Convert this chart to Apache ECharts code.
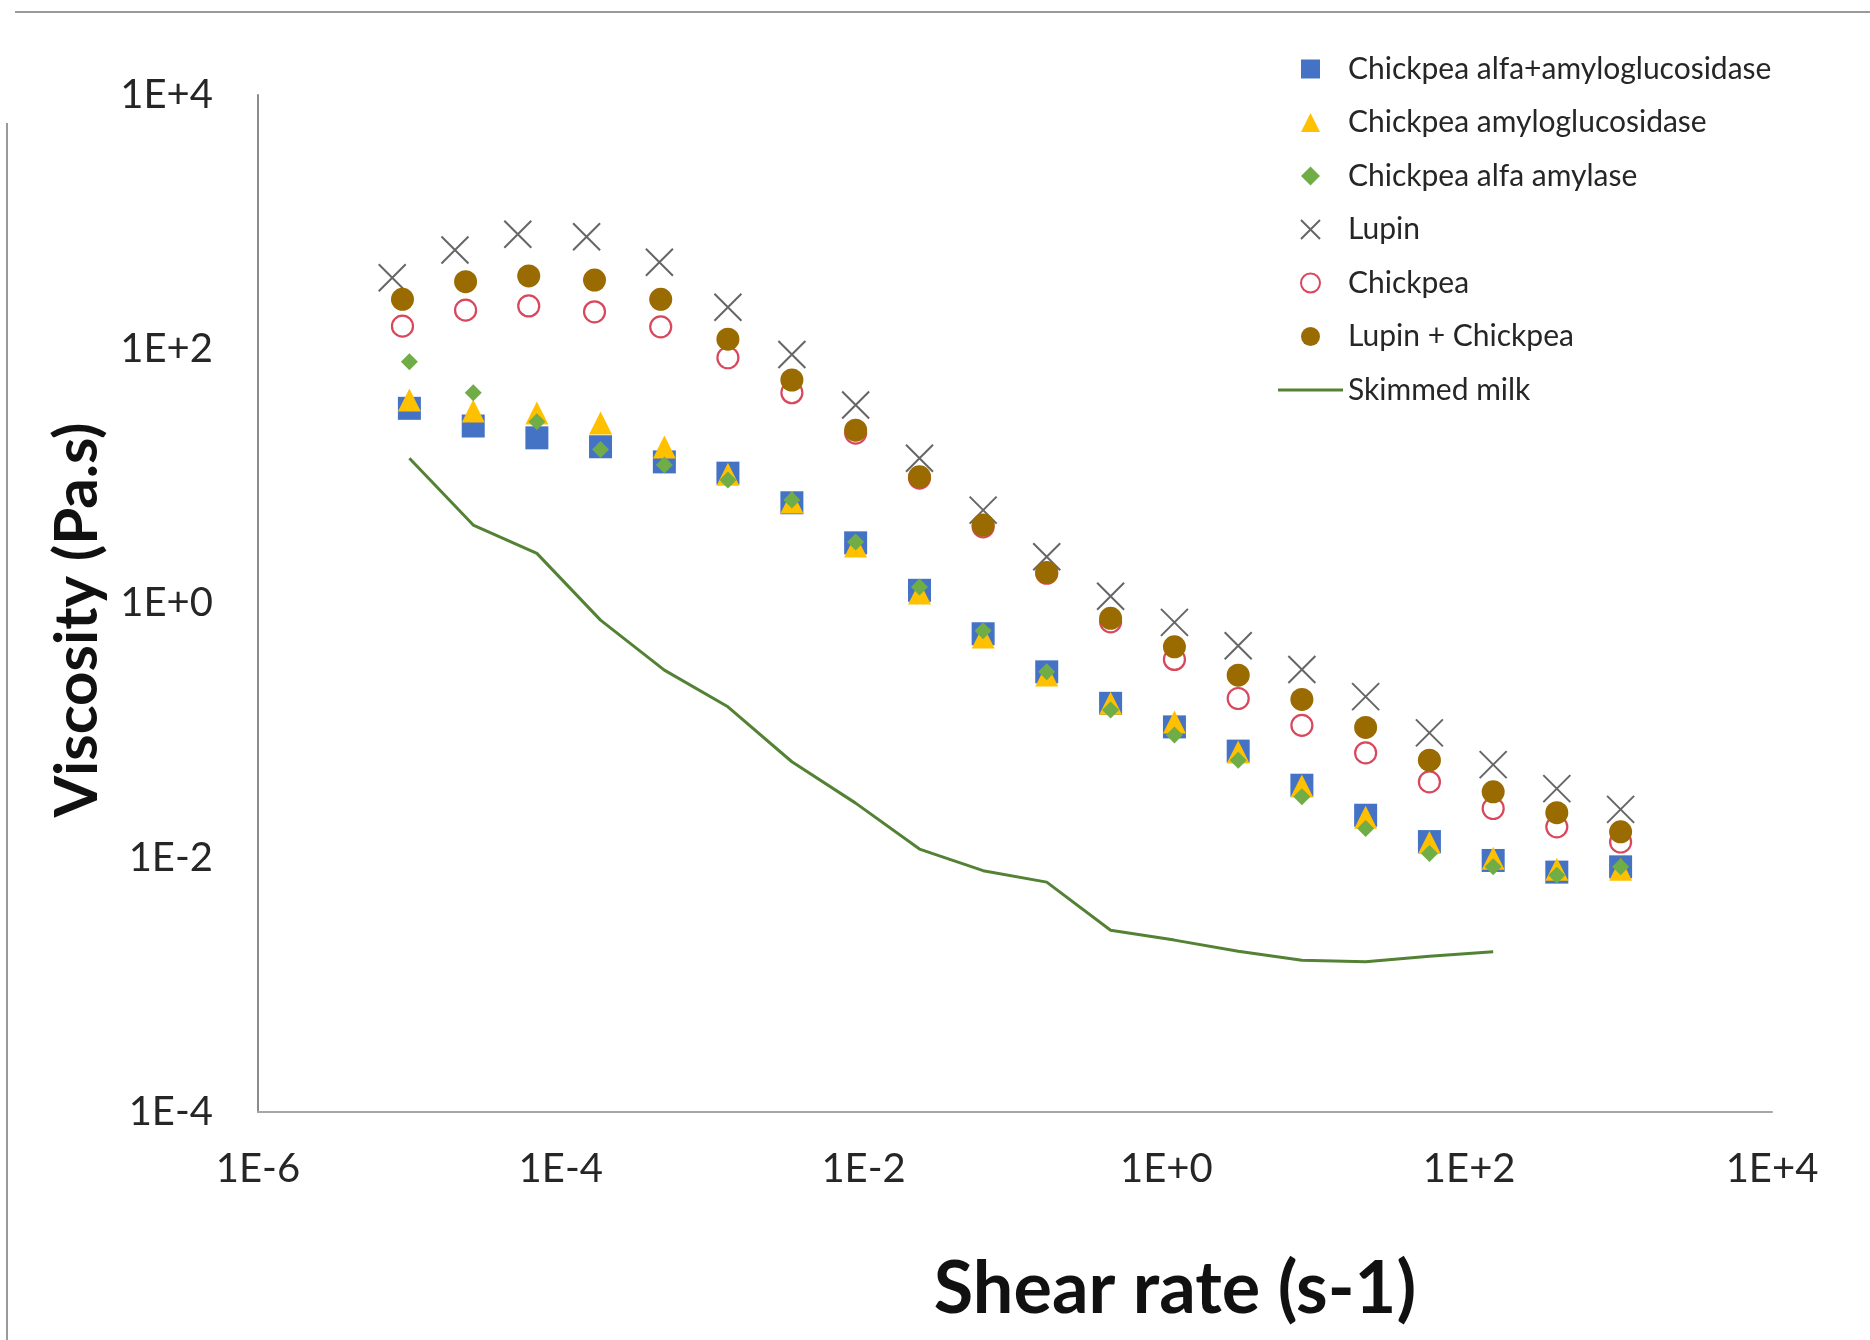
<!DOCTYPE html>
<html>
<head>
<meta charset="utf-8">
<title>Viscosity vs shear rate</title>
<script src="https://cdn.jsdelivr.net/npm/echarts@6/dist/echarts.min.js"></script>
<style>
  html, body { margin: 0; padding: 0; background: #ffffff; }
  #chart { width: 1870px; height: 1340px; }
</style>
</head>
<body>
<div id="chart"></div>
<script>
/* ============================================================
   Viscosity (Pa.s) vs Shear rate (s-1), log-log scatter
   6 scatter series + skimmed milk line
   ============================================================ */

// ---- shear rate (x) ----
var enzymeShear   = [1.0e-5, 2.64e-5, 6.95e-5, 1.83e-4, 4.83e-4, 1.27e-3, 3.36e-3, 8.86e-3, 0.0234, 0.0616,
                     0.162, 0.428, 1.13, 2.98, 7.85, 20.7, 54.6, 144, 379, 1000];
var lupinShear    = [7.7e-6, 2.0e-5, 5.2e-5, 1.48e-4, 4.48e-4, 1.27e-3, 3.36e-3, 8.86e-3, 0.0234, 0.0616,
                     0.162, 0.428, 1.13, 2.98, 7.85, 20.7, 54.6, 144, 379, 1000];
var chickpeaShear = [9.0e-6, 2.35e-5, 6.14e-5, 1.67e-4, 4.57e-4, 1.27e-3, 3.36e-3, 8.86e-3, 0.0234, 0.0616,
                     0.162, 0.428, 1.13, 2.98, 7.85, 20.7, 54.6, 144, 379, 1000];
var milkShear     = [1.0e-5, 2.64e-5, 6.95e-5, 1.83e-4, 4.83e-4, 1.27e-3, 3.36e-3, 8.86e-3, 0.0234, 0.0616,
                     0.162, 0.428, 1.13, 2.98, 7.85, 20.7, 54.6, 144];

// ---- viscosity (y) ----
var alfaAmyloVisc  = [34.3, 24.9, 20.1, 17.1, 13.0, 10.6, 6.2, 3.0, 1.27, 0.578,
                      0.290, 0.164, 0.107, 0.069, 0.0372, 0.0216, 0.0134, 0.00952, 0.00771, 0.00848];
var amyloVisc      = [39.8, 32.7, 31.5, 26.3, 17.0, 10.4, 6.28, 2.83, 1.21, 0.544,
                      0.274, 0.164, 0.117, 0.0678, 0.0366, 0.0208, 0.0132, 0.00993, 0.00813, 0.00813];
var alfaVisc       = [79.8, 45.5, 26.9, 16.3, 12.3, 9.35, 6.51, 3.05, 1.35, 0.61,
                      0.290, 0.145, 0.0922, 0.0586, 0.0302, 0.0170, 0.0108, 0.00848, 0.00729, 0.00848];
var lupinVisc      = [365, 603, 802, 768, 483, 214, 91, 36.4, 13.9, 5.43,
                      2.33, 1.14, 0.71, 0.465, 0.303, 0.185, 0.096, 0.054, 0.035, 0.024];
var chickpeaVisc   = [152, 203, 219, 197, 150, 85.7, 45.5, 21.9, 9.70, 4.01,
                      1.73, 0.718, 0.363, 0.179, 0.110, 0.0668, 0.0395, 0.0244, 0.0175, 0.0133];
var blendVisc      = [247, 340, 377, 350, 247, 120, 57.3, 23.1, 9.93, 4.14,
                      1.75, 0.764, 0.456, 0.273, 0.176, 0.106, 0.0586, 0.0330, 0.0226, 0.0160];
var milkVisc       = [13.9, 4.14, 2.48, 0.740, 0.299, 0.154, 0.0569, 0.0269, 0.0117, 0.00791,
                      0.00643, 0.00269, 0.00225, 0.00184, 0.00156, 0.00152, 0.00168, 0.00182];

// ---- names / labels ----
var seriesNames = ["Chickpea alfa+amyloglucosidase", "Chickpea amyloglucosidase", "Chickpea alfa amylase",
                   "Lupin", "Chickpea", "Lupin + Chickpea", "Skimmed milk"];
var xTitle = "Shear rate (s-1)";
var yTitle = "Viscosity (Pa.s)";

var FONT = "Lato, 'Open Sans', sans-serif";

// path icons keep their aspect inside the wide legend box
var ICON_SQUARE   = "path://M0,0H10V10H0Z";
var ICON_TRIANGLE = "path://M5,0L10,10L0,10Z";
var ICON_DIAMOND  = "path://M5,0L10,5L5,10L0,5Z";
var ICON_CROSS    = "path://M0,0L10,10M0,10L10,0";
var ICON_CIRCLE   = "path://M10,5A5,5,0,1,1,0,5A5,5,0,1,1,10,5Z";
var ICON_LINE     = "path://M0,0H65V3H0Z";
var legendIcons   = [ICON_SQUARE, ICON_TRIANGLE, ICON_DIAMOND, ICON_CROSS, ICON_CIRCLE, ICON_CIRCLE, ICON_LINE];

function pairs(xs, ys) {
  return ys.map(function(v, i) { return [xs[i], v]; });
}

// 1E+4 style labels
function sciLabel(v) {
  var e = Math.round(Math.log10(v));
  return "1E" + (e >= 0 ? "+" : "") + e;
}

var chart = echarts.init(document.getElementById("chart"), null, { renderer: "canvas" });

chart.setOption({
  backgroundColor: "#ffffff",
  animation: false,

  // ---- legend ----
  legend: {
    orient: "vertical",
    left: 1273,
    top: 49,
    itemWidth: 65,
    itemHeight: 19,
    itemGap: 23.5,
    textStyle: { fontFamily: FONT, fontSize: 30, color: "#262626" },
    data: seriesNames.map(function(n, i) { return { name: n, icon: legendIcons[i] }; })
  },

  // ---- grid ----
  grid: { left: 258, right: 98, top: 95, bottom: 228 },

  xAxis: {
    type: "log",
    logBase: 10,
    min: 1e-6,
    max: 1e4,
    interval: 2,
    axisLine: { show: true, onZero: false, lineStyle: { color: "#a6a6a6", width: 2 } },
    axisTick: { show: false },
    minorTick: { show: false },
    splitLine: { show: false },
    axisLabel: {
      margin: 37,
      fontFamily: FONT,
      fontSize: 40,
      color: "#262626",
      formatter: sciLabel
    }
  },

  yAxis: {
    type: "log",
    logBase: 10,
    min: 1e-4,
    max: 1e4,
    interval: 2,
    axisLine: { show: true, onZero: false, lineStyle: { color: "#8c8c8c", width: 2 } },
    axisTick: { show: false },
    minorTick: { show: false },
    splitLine: { show: false },
    axisLabel: {
      margin: 45,
      fontFamily: FONT,
      fontSize: 40,
      color: "#262626",
      formatter: sciLabel
    }
  },

  // ---- titles + outer frame ----
  graphic: [
    {
      type: "text",
      x: 1175, y: 1290,
      style: { text: xTitle, font: "bold 72px " + FONT, fill: "#111111", align: "center", verticalAlign: "middle" }
    },
    {
      type: "text",
      x: 78, y: 620,
      rotation: Math.PI / 2,
      style: { text: yTitle, font: "bold 60px " + FONT, fill: "#111111", align: "center", verticalAlign: "middle" }
    },
    { type: "line", shape: { x1: 15, y1: 12, x2: 1870, y2: 12 }, style: { stroke: "#9a9a9a", lineWidth: 2 } },
    { type: "line", shape: { x1: 7, y1: 123, x2: 7, y2: 1340 }, style: { stroke: "#9a9a9a", lineWidth: 2 } }
  ],

  series: [
    {
      name: seriesNames[0], type: "scatter", symbol: "rect", symbolSize: 23,
      itemStyle: { color: "#4472c4", opacity: 1 },
      data: pairs(enzymeShear, alfaAmyloVisc)
    },
    {
      name: seriesNames[1], type: "scatter", symbol: "triangle", symbolSize: 23,
      itemStyle: { color: "#ffc000", opacity: 1 },
      data: pairs(enzymeShear, amyloVisc)
    },
    {
      name: seriesNames[2], type: "scatter", symbol: "diamond", symbolSize: 17,
      itemStyle: { color: "#70ad47", opacity: 1 },
      data: pairs(enzymeShear, alfaVisc)
    },
    {
      name: seriesNames[3], type: "scatter", symbol: ICON_CROSS, symbolSize: 27,
      itemStyle: { color: "rgba(0,0,0,0)", borderColor: "#666666", borderWidth: 2, opacity: 1 },
      data: pairs(lupinShear, lupinVisc)
    },
    {
      name: seriesNames[4], type: "scatter", symbol: "circle", symbolSize: 21,
      itemStyle: { color: "#ffffff", borderColor: "#d9475c", borderWidth: 2.2, opacity: 1 },
      data: pairs(chickpeaShear, chickpeaVisc)
    },
    {
      name: seriesNames[5], type: "scatter", symbol: "circle", symbolSize: 23,
      itemStyle: { color: "#9a6b00", opacity: 1 },
      data: pairs(chickpeaShear, blendVisc)
    },
    {
      name: seriesNames[6], type: "line", symbol: "none", showSymbol: false,
      lineStyle: { color: "#548235", width: 3 },
      itemStyle: { color: "#548235" },
      data: pairs(milkShear, milkVisc)
    }
  ]
});
</script>
</body>
</html>
